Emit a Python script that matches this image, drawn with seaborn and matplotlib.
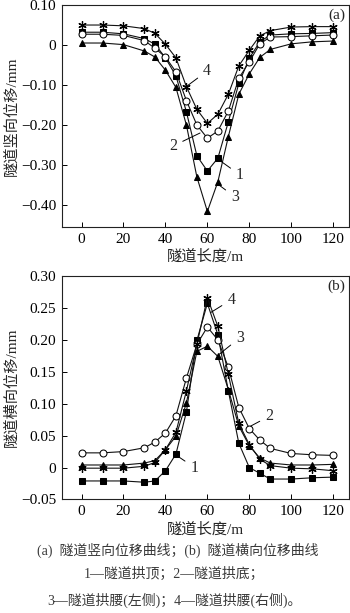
import numpy as np
import pandas as pd
import matplotlib
matplotlib.use("Agg")
import matplotlib.pyplot as plt
import seaborn as sns

sns.set_style("ticks")
plt.rcParams['font.family'] = ['Liberation Serif', 'Noto Sans CJK SC', 'DejaVu Sans']
plt.rcParams['axes.unicode_minus'] = True

# ---------------- data ----------------
x_pos = [0, 10, 20, 30, 35, 40, 45, 50, 55, 60, 65, 70, 75, 80, 85, 90, 100, 110, 120]

# (a) vertical displacement (mm)
a_crown = [0.032, 0.032, 0.028, 0.016, 0.002, -0.032, -0.077, -0.167, -0.277, -0.315, -0.283, -0.192,
           -0.096, -0.033, 0.008, 0.025, 0.028, 0.029, 0.031]
a_invert = [0.027, 0.027, 0.024, 0.011, -0.008, -0.030, -0.067, -0.139, -0.200, -0.233, -0.215, -0.165,
            -0.083, -0.042, 0.003, 0.020, 0.021, 0.023, 0.025]
a_left = [0.005, 0.005, 0.001, -0.015, -0.030, -0.063, -0.106, -0.200, -0.330, -0.416, -0.342, -0.229,
          -0.123, -0.072, -0.031, -0.011, 0.003, 0.008, 0.010]
a_right = [0.050, 0.050, 0.048, 0.041, 0.029, 0.002, -0.032, -0.104, -0.161, -0.196, -0.173, -0.123,
           -0.052, -0.013, 0.023, 0.036, 0.045, 0.046, 0.046]

# (b) horizontal displacement (mm)
b_crown = [-0.021, -0.021, -0.021, -0.023, -0.021, -0.005, 0.021, 0.087, 0.199, 0.257, 0.208, 0.120,
           0.038, 0.000, -0.009, -0.018, -0.018, -0.016, -0.015]
b_invert = [0.023, 0.023, 0.025, 0.031, 0.040, 0.054, 0.081, 0.140, 0.193, 0.220, 0.200, 0.157,
            0.094, 0.061, 0.043, 0.030, 0.022, 0.020, 0.019]
b_left = [0.004, 0.004, 0.004, 0.007, 0.011, 0.028, 0.049, 0.101, 0.182, 0.190, 0.174, 0.122,
          0.065, 0.034, 0.015, 0.007, 0.004, 0.004, 0.005]
b_right = [-0.001, -0.001, -0.001, 0.002, 0.008, 0.028, 0.055, 0.120, 0.193, 0.266, 0.221, 0.146,
           0.069, 0.036, 0.013, 0.003, -0.001, -0.002, -0.005]

a_yticks = [0.10, 0.0, -0.10, -0.20, -0.30, -0.40]
a_ylabels = ["0.10", "0", "\u22120.10", "\u22120.20", "\u22120.30", "\u22120.40"]
b_yticks = [0.30, 0.25, 0.20, 0.15, 0.10, 0.05, 0.0, -0.05]
b_ylabels = ["0.30", "0.25", "0.20", "0.15", "0.10", "0.05", "0", "\u22120.05"]
x_ticks = [0, 20, 40, 60, 80, 100, 120]

styles = [
    dict(marker='s', markerfacecolor='black', markersize=4.5),
    dict(marker='o', markerfacecolor='white', markersize=5),
    dict(marker='^', markerfacecolor='black', markersize=5),
    dict(marker=(6, 2, 0), markerfacecolor='black', markersize=6, markeredgewidth=0.9),
]

fig = plt.figure(figsize=(3.5, 6.13), dpi=100)
ax_a = fig.add_axes([0.176, 0.6297, 0.821, 0.3621])
ax_b = fig.add_axes([0.176, 0.1852, 0.821, 0.3646])

def draw(ax, series):
    for ys, st in zip(series, styles):
        df = pd.DataFrame({"x": x_pos, "y": ys})
        sns.lineplot(data=df, x="x", y="y", ax=ax, color='#111111', lw=0.8,
                     markeredgecolor='black', **st)
    ax.set_xlim(-9.5, 127.5)
    ax.set_xticks(x_ticks)
    ax.set_xticklabels([str(t) for t in x_ticks])
    ax.tick_params(direction='in', length=3.5, width=0.7, labelsize=11, pad=4,
                   top=False, right=False, colors='black')
    for s in ax.spines.values():
        s.set_linewidth(0.8)
        s.set_color('#222222')
    ax.set_xlabel("隧道长度/m", fontsize=11)
    ax.yaxis.label.set_verticalalignment('center')
    ax.xaxis.label.set_verticalalignment('center')

draw(ax_a, [a_crown, a_invert, a_left, a_right])
ax_a.set_ylim(-0.455, 0.10)
ax_a.set_yticks(a_yticks)
ax_a.set_yticklabels(a_ylabels)
ax_a.set_ylabel("隧道竖向位移/mm", fontsize=11, va='center')
ax_a.yaxis.set_label_coords(-0.173, 0.5)
ax_a.set_xlabel("隧道长度/m", fontsize=11, va='center')
ax_a.xaxis.set_label_coords(0.499, -0.135)
ax_a.text(0.957, 0.955, "(a)", transform=ax_a.transAxes, ha='center', va='center', fontsize=11)

draw(ax_b, [b_crown, b_invert, b_left, b_right])
ax_b.set_ylim(-0.05, 0.30)
ax_b.set_yticks(b_yticks)
ax_b.set_yticklabels(b_ylabels)
ax_b.set_ylabel("隧道横向位移/mm", fontsize=11, va='center')
ax_b.yaxis.set_label_coords(-0.173, 0.5)
ax_b.set_xlabel("隧道长度/m", fontsize=11, va='center')
ax_b.xaxis.set_label_coords(0.499, -0.136)
ax_b.text(0.957, 0.952, "(b)", transform=ax_b.transAxes, ha='center', va='center', fontsize=11)

arrow = dict(arrowstyle='-', lw=0.7, color='black', shrinkA=2, shrinkB=0)
# panel a leaders
for lbl, xy, xt in [("4", (50.3, -0.1025), (59.9, -0.065)),
                    ("2", (56.5, -0.220), (43.6, -0.2525)),
                    ("1", (65.2, -0.286), (75.6, -0.325)),
                    ("3", (64.5, -0.346), (73.2, -0.380))]:
    ax_a.annotate(lbl, xy=xy, xytext=xt, ha='center', va='center', fontsize=11.5, arrowprops=arrow)
# panel b leaders
for lbl, xy, xt in [("4", (61.7, 0.243), (71.5, 0.263)),
                    ("3", (65.5, 0.177), (75.6, 0.2036)),
                    ("2", (80.7, 0.065), (89.6, 0.0806)),
                    ("1", (45.3, 0.019), (53.9, 0.000))]:
    ax_b.annotate(lbl, xy=xy, xytext=xt, ha='center', va='center', fontsize=11.5, arrowprops=arrow)

cap_color = '#3a3a3a'
fig.text(0.507, 0.1028, "(a)  隧道竖向位移曲线；(b)  隧道横向位移曲线", ha='center', va='center',
         fontsize=10, color=cap_color)
fig.text(0.497, 0.0636, "1—隧道拱顶；2—隧道拱底；", ha='center', va='center', fontsize=10, color=cap_color)
fig.text(0.4986, 0.0212, "3—隧道拱腰(左侧)；4—隧道拱腰(右侧)。", ha='center', va='center',
         fontsize=10, color=cap_color)

fig.savefig("out.png", dpi=100)
